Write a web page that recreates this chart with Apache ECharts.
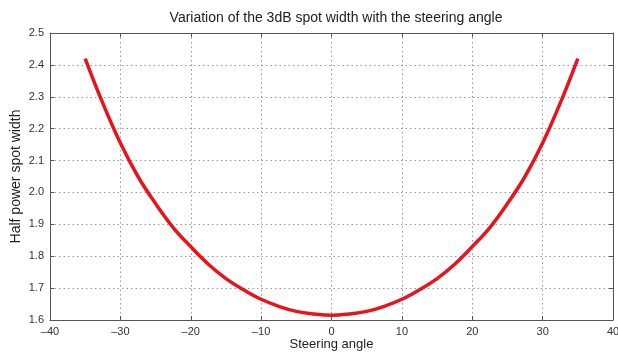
<!DOCTYPE html>
<html>
<head>
<meta charset="utf-8">
<script src="https://cdn.jsdelivr.net/npm/echarts@6/dist/echarts.min.js"></script>
<style>
html, body {margin: 0; padding: 0; background: #fff;}
#chart {width: 618px; height: 354px;}
</style>
</head>
<body>
<div id="chart"></div>
<script>
// steering angle (deg) and half power spot width
const angles = [-35, -32.5, -30, -27.5, -25, -22.5, -20, -17.5, -15, -12.5, -10, -7.5, -5, -2.5, 0,
	2.5, 5, 7.5, 10, 12.5, 15, 17.5, 20, 22.5, 25, 27.5, 30, 32.5, 35];
const widths = [2.42, 2.28, 2.155, 2.05, 1.965, 1.89, 1.83, 1.775, 1.73, 1.695, 1.665, 1.643, 1.627, 1.619, 1.615,
	1.619, 1.627, 1.643, 1.665, 1.695, 1.73, 1.775, 1.83, 1.89, 1.965, 2.05, 2.155, 2.28, 2.42];

const chart = echarts.init(document.getElementById('chart'));
const gridLine = {show: true, lineStyle: {color: '#999', type: [1.5, 3], width: 1}};
const fmtX = v => String(v).replace('-', '\u2013');
const font = 'Liberation Sans, Arial, sans-serif';
const axisText = {color: '#333', fontSize: 11, fontFamily: font};
const frame = {show: true, onZero: false, lineStyle: {color: '#555'}};
const ticks = {inside: true, length: 4, lineStyle: {color: '#555'}};

chart.setOption({
	animation: false,
	title: {
		text: 'Variation of the 3dB spot width with the steering angle',
		left: 331, top: 6, textAlign: 'center',
		textStyle: {color: '#222', fontSize: 14, fontWeight: 'normal', fontFamily: font}
	},
	grid: {left: 50, right: 5, top: 33, bottom: 34, outerBoundsMode: 'none'},
	xAxis: [{
		type: 'value', min: -40, max: 40, interval: 10,
		name: 'Steering angle', nameLocation: 'middle', nameGap: 18, nameMoveOverlap: false,
		nameTextStyle: {color: '#222', fontSize: 13, fontFamily: font},
		axisLine: frame, axisTick: ticks,
		axisLabel: {...axisText, formatter: fmtX, margin: 6},
		splitLine: gridLine
	}, {
		type: 'value', min: -40, max: 40, interval: 10, position: 'top',
		axisLine: frame, axisTick: ticks,
		axisLabel: {show: false}, splitLine: {show: false}
	}],
	yAxis: [{
		type: 'value', min: 1.6, max: 2.5, interval: 0.1,
		name: 'Half power spot width', nameLocation: 'middle', nameGap: 27, nameMoveOverlap: false,
		nameTextStyle: {color: '#222', fontSize: 14, fontFamily: font},
		axisLine: frame, axisTick: ticks,
		axisLabel: {...axisText, formatter: v => v.toFixed(1), margin: 6},
		splitLine: gridLine
	}, {
		type: 'value', min: 1.6, max: 2.5, interval: 0.1, position: 'right',
		axisLine: frame, axisTick: ticks,
		axisLabel: {show: false}, splitLine: {show: false}
	}],
	series: [{
		type: 'line',
		data: angles.map((a, i) => [a, widths[i]]),
		smooth: 0.4,
		showSymbol: false,
		lineStyle: {color: '#e8131b', width: 3.5}
	}]
});
</script>
</body>
</html>
